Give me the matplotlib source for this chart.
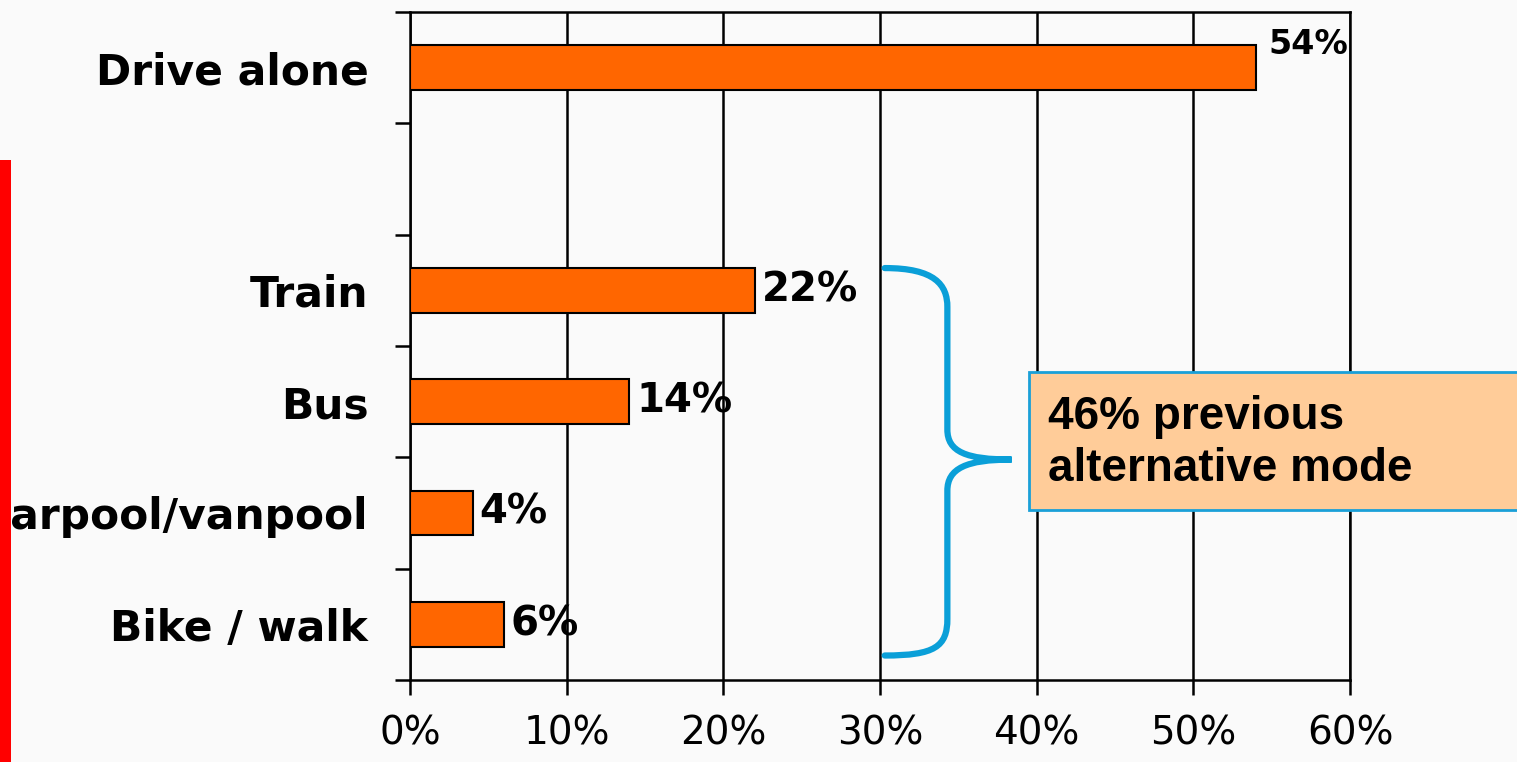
import matplotlib
matplotlib.use('Agg')
import matplotlib.pyplot as plt
from matplotlib.patches import Rectangle, PathPatch
from matplotlib.path import Path
import numpy as np

# data
modes = ["Drive alone", "", "Train", "Bus", "Carpool/vanpool", "Bike / walk"]
shares = [54, np.nan, 22, 14, 4, 6]
share_labels = ["54%", "", "22%", "14%", "4%", "6%"]
xticks = [0, 10, 20, 30, 40, 50, 60]
xtick_labels = ["0%", "10%", "20%", "30%", "40%", "50%", "60%"]
note = "46% previous\nalternative mode"

W, H = 1517, 762
fig = plt.figure(figsize=(W/100, H/100), dpi=100, facecolor='#fafafa')
ax = fig.add_axes([410/W, 1-680/H, 940/W, 668/H])
ax.set_facecolor('none')

rows = np.arange(len(modes))
vals = np.array(shares, dtype=float)
has = ~np.isnan(vals)
ax.barh(rows[has], vals[has], height=0.4, color='#ff6600',
        edgecolor='black', linewidth=1.5, zorder=3)

ax.set_xlim(0, 60)
ax.set_ylim(len(modes)-0.5, -0.5)
ax.set_xticks(xticks)
ax.set_xticklabels(xtick_labels, fontsize=28)
ax.xaxis.grid(True, color='black', linewidth=1.8)
ax.set_axisbelow(True)

ax.set_yticks(rows)
ax.set_yticklabels(modes, fontsize=30.5, fontweight='bold')
ax.set_yticks(np.arange(len(modes)+1)-0.5, minor=True)
ax.tick_params(axis='y', which='major', length=0, pad=30)
ax.tick_params(axis='y', which='minor', length=11, width=1.8, direction='out')
ax.tick_params(axis='x', length=11, width=1.8, direction='out', pad=14)
for s in ax.spines.values():
    s.set_linewidth(1.8)

# value labels
for i, (v, lab) in enumerate(zip(vals, share_labels)):
    if np.isnan(v):
        continue
    if i == 0:
        ax.annotate(lab, (v, i), xytext=(9, 17), textcoords='offset points',
                    fontsize=24, fontweight='bold', va='center', ha='left')
    else:
        ax.annotate(lab, (v, i), xytext=(5, 0), textcoords='offset points',
                    fontsize=29, fontweight='bold', va='center', ha='left')

# curly brace
verts = [(30.3, 1.80), (33.5, 1.80), (34.3, 1.95), (34.3, 2.15),
         (34.3, 3.25),
         (34.3, 3.45), (35.5, 3.52), (38.4, 3.52),
         (35.5, 3.52), (34.3, 3.60), (34.3, 3.80),
         (34.3, 4.95),
         (34.3, 5.20), (33.5, 5.28), (30.3, 5.28)]
codes = [Path.MOVETO, Path.CURVE4, Path.CURVE4, Path.CURVE4,
         Path.LINETO,
         Path.CURVE4, Path.CURVE4, Path.CURVE4,
         Path.CURVE4, Path.CURVE4, Path.CURVE4,
         Path.LINETO,
         Path.CURVE4, Path.CURVE4, Path.CURVE4]
ax.add_patch(PathPatch(Path(verts, codes), facecolor='none', edgecolor='#0a9fd8',
                       linewidth=4.5, capstyle='round', zorder=4, clip_on=False))

# note box
fig.patches.append(Rectangle((1029/W, 1-510/H), 0.4, 138/H, transform=fig.transFigure,
                             facecolor='#ffcc99', edgecolor='#1aa0d8', linewidth=2, zorder=5))
fig.text(1048/W, 1-443/H, note, fontsize=33, fontweight='bold',
         family=['Liberation Sans', 'DejaVu Sans'], va='center', ha='left',
         linespacing=1.25, zorder=6)

# red side bar
fig.patches.append(Rectangle((0, 0), 11/W, (H-160)/H, transform=fig.transFigure,
                             facecolor='#ff0000', edgecolor='none', zorder=5))

fig.savefig('out.png', dpi=100, facecolor=fig.get_facecolor())
